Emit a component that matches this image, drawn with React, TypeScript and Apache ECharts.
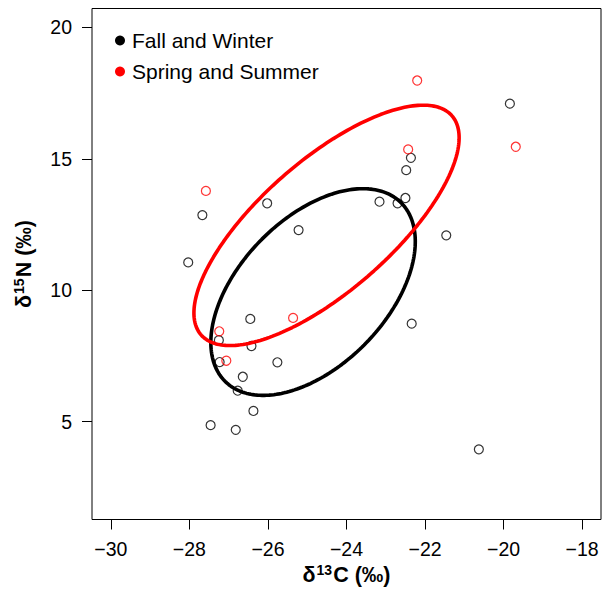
import React, { useEffect, useRef } from "react";
import * as echarts from "echarts";

// δ13C / δ15N values
const fallWinterC = [
  -27.67, -28.03, -26.02, -25.22, -19.84, -22.36, -22.48, -22.5, -22.7, -23.16,
  -21.46, -26.45, -27.25, -26.42, -27.23, -25.76, -26.64, -26.77, -26.37, -27.46,
  -26.82, -22.34, -20.63,
];
const fallWinterN = [
  12.86, 11.06, 13.31, 12.29, 17.1, 15.04, 14.57, 13.51, 13.31, 13.37,
  12.09, 8.91, 8.1, 7.88, 7.27, 7.26, 6.71, 6.18, 5.41, 4.87,
  4.69, 8.73, 3.95,
];
const springSummerC = [-27.58, -22.2, -19.69, -22.43, -25.36, -27.24, -27.06];
const springSummerN = [13.78, 17.98, 15.46, 15.36, 8.95, 8.44, 7.32];

const seriesNames = ["Fall and Winter", "Spring and Summer"];
const seriesColors = ["#000000", "#ff0000"];

const xTicks = [-30, -28, -26, -24, -22, -20, -18];
const yTicks = [5, 10, 15, 20];
const xLimits = [-30, -18];
const yLimits = [2, 20];

const FONT = "'Liberation Sans', Arial, Helvetica, sans-serif";

// Small-sample-corrected standard ellipse (SEAc) from the sample covariance
function seacEllipse(xs: number[], ys: number[], steps = 240): number[][] {
  const n = xs.length;
  const mx = xs.reduce((s, v) => s + v, 0) / n;
  const my = ys.reduce((s, v) => s + v, 0) / n;
  let sxx = 0, syy = 0, sxy = 0;
  for (let i = 0; i < n; i++) {
    const dx = xs[i] - mx;
    const dy = ys[i] - my;
    sxx += dx * dx;
    syy += dy * dy;
    sxy += dx * dy;
  }
  // cov = S/(n-1); SEAc scales by (n-1)/(n-2) -> S/(n-2)
  sxx /= n - 2;
  syy /= n - 2;
  sxy /= n - 2;
  const a = Math.sqrt(sxx);
  const b = sxy / a;
  const c = Math.sqrt(Math.max(syy - b * b, 0));
  const pts: number[][] = [];
  for (let k = 0; k <= steps; k++) {
    const t = (2 * Math.PI * k) / steps;
    pts.push([mx + a * Math.cos(t), my + b * Math.cos(t) + c * Math.sin(t)]);
  }
  return pts;
}

function extend(lim: number[]): number[] {
  const d = (lim[1] - lim[0]) * 0.04;
  return [lim[0] - d, lim[1] + d];
}

const fmt = (v: number) => String(v).replace("-", "\u2212");

const titleRich = {
  b: { fontSize: 21.5, fontWeight: "bold", color: "#000", fontFamily: FONT },
  sup: {
    fontSize: 14,
    fontWeight: "bold",
    color: "#000",
    fontFamily: FONT,
    padding: [0, 1, 9, 1],
  },
};

export default function App() {
  const ref = useRef<HTMLDivElement>(null);

  useEffect(() => {
    if (!ref.current) return;
    const chart = echarts.init(ref.current, null, { renderer: "svg" });
    const xr = extend(xLimits);
    const yr = extend(yLimits);

    const groups = [
      { c: fallWinterC, n: fallWinterN },
      { c: springSummerC, n: springSummerN },
    ];

    const scatterSeries = groups.map((g, i) => ({
      name: seriesNames[i],
      type: "scatter",
      data: g.c.map((x, j) => [x, g.n[j]]),
      symbol: "circle",
      symbolSize: 9,
      itemStyle: {
        color: "rgba(0,0,0,0)",
        borderColor: seriesColors[i],
        borderWidth: 1.2,
      },
      z: 2,
    }));

    const ellipseSeries = groups.map((g, i) => ({
      name: seriesNames[i] + " SEAc",
      type: "line",
      data: seacEllipse(g.c, g.n),
      showSymbol: false,
      symbol: "none",
      smooth: false,
      lineStyle: { color: seriesColors[i], width: 3.6 },
      z: 3,
    }));

    chart.setOption({
      animation: false,
      backgroundColor: "#ffffff",
      textStyle: { fontFamily: FONT },
      grid: {
        left: 92,
        top: 8.5,
        width: 509,
        height: 511,
        show: true,
        borderColor: "#000",
        borderWidth: 1,
        backgroundColor: "transparent",
      },
      legend: {
        orient: "vertical",
        left: 110,
        top: 24,
        itemWidth: 10,
        itemHeight: 10,
        itemGap: 8,
        selectedMode: false,
        textStyle: {
          fontSize: 21,
          lineHeight: 23,
          color: "#000",
          fontFamily: FONT,
          padding: [0, 0, 0, 2],
        },
        data: seriesNames.map((name, i) => ({
          name,
          icon: "circle",
          itemStyle: { color: seriesColors[i], borderWidth: 0, opacity: 1 },
        })),
      },
      xAxis: {
        type: "value",
        min: xr[0],
        max: xr[1],
        name: "{b|δ}{sup|13}{b|C (‰)}",
        nameLocation: "middle",
        nameGap: 30,
        nameTextStyle: { rich: titleRich },
        axisLine: { show: false },
        splitLine: { show: false },
        axisTick: {
          show: true,
          length: 10,
          inside: false,
          customValues: xTicks,
          lineStyle: { color: "#000", width: 1 },
        },
        axisLabel: {
          customValues: xTicks,
          formatter: (v: number) => fmt(v),
          fontSize: 19.5,
          color: "#000",
          margin: 19,
          fontFamily: FONT,
        },
      },
      yAxis: {
        type: "value",
        min: yr[0],
        max: yr[1],
        name: "{b|δ}{sup|15}{b|N (‰)}",
        nameLocation: "middle",
        nameRotate: 90,
        nameGap: 57,
        nameTextStyle: { rich: titleRich },
        axisLine: { show: false },
        splitLine: { show: false },
        axisTick: {
          show: true,
          length: 10,
          inside: false,
          customValues: yTicks,
          lineStyle: { color: "#000", width: 1 },
        },
        axisLabel: {
          customValues: yTicks,
          formatter: (v: number) => fmt(v),
          fontSize: 19.5,
          color: "#000",
          margin: 20,
          fontFamily: FONT,
        },
      },
      series: [...scatterSeries, ...ellipseSeries],
    });

    return () => chart.dispose();
  }, []);

  return (
    <div
      ref={ref}
      style={{ position: "absolute", left: 0, top: 0, width: 602, height: 592 }}
    />
  );
}
